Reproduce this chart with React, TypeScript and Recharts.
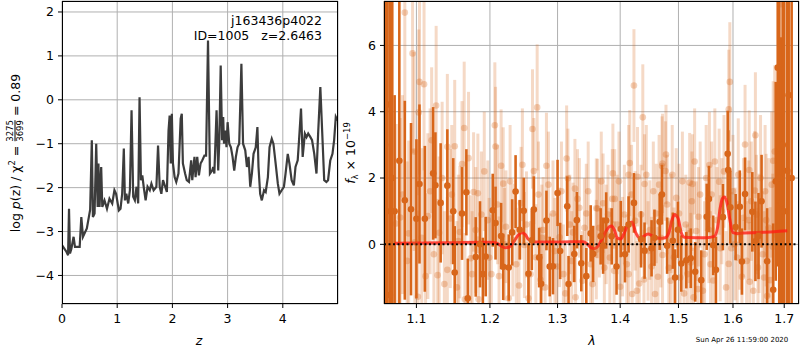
import {
  LineChart,
  Line,
  XAxis,
  YAxis,
  CartesianGrid,
  ComposedChart,
  Scatter,
  ErrorBar,
  ReferenceLine,
} from "recharts";

const FONT = "'DejaVu Sans', sans-serif";
const DARK = "#d8661a";
const GRID = "#b0b0b0";

// left panel: log p(z)
const zVals = [
  0, 0.08, 0.11, 0.127, 0.145, 0.17, 0.21, 0.235, 0.32, 0.35, 0.38, 0.45, 0.51, 0.54, 0.56, 0.59,
  0.62, 0.646, 0.66, 0.68, 0.71, 0.73, 0.77, 0.815, 0.86, 0.91, 0.95, 0.98, 1.03, 1.06, 1.09, 1.12,
  1.14, 1.165, 1.2, 1.23, 1.26, 1.29, 1.32, 1.35, 1.38, 1.405, 1.43, 1.455, 1.48, 1.515, 1.55, 1.59,
  1.62, 1.66, 1.71, 1.74, 1.77, 1.8, 1.83, 1.87, 1.9, 1.93, 1.95, 1.97, 1.99, 2.01, 2.04, 2.07, 2.11,
  2.15, 2.17, 2.19, 2.23, 2.26, 2.3, 2.34, 2.36, 2.4, 2.42, 2.45, 2.48, 2.51, 2.54, 2.58, 2.61, 2.645,
  2.68, 2.72, 2.74, 2.76, 2.8, 2.83, 2.85, 2.875, 2.9, 2.92, 2.935, 2.96, 2.98, 3.0, 3.03, 3.06, 3.09,
  3.12, 3.15, 3.18, 3.21, 3.25, 3.28, 3.32, 3.35, 3.38, 3.41, 3.44, 3.47, 3.51, 3.54, 3.56, 3.59, 3.62,
  3.66, 3.69, 3.73, 3.76, 3.8, 3.83, 3.87, 3.91, 3.94, 3.98, 4.02, 4.05, 4.09, 4.12, 4.16, 4.2, 4.23,
  4.27, 4.29, 4.33, 4.36, 4.4, 4.43, 4.46, 4.5, 4.53, 4.57, 4.61, 4.64, 4.68, 4.72, 4.75, 4.79, 4.82,
  4.86, 4.9, 4.93, 4.96, 4.99,
];
const logPz = [
  -3.31, -3.46, -3.54, -2.48, -3.5, -3.39, -3.12, -3.35, -3.35, -2.67, -3.12, -2.93, -2.5, -0.92, -2.67,
  -2.59, -1.0, -2.44, -1.45, -2.44, -1.53, -2.44, -2.29, -2.48, -2.25, -2.36, -2.06, -2.14, -2.52, -2.48,
  -2.14, -1.11, -2.29, -2.14, -2.36, -2.06, -0.24, -2.21, -2.29, -1.98, -2.36, 0.06, -1.83, -1.72, -1.98,
  -2.29, -1.98, -2.06, -1.91, -2.06, -1.98, -1.04, -1.98, -2.14, -1.83, -1.98, -2.1, -0.7, -0.36, -1.45,
  -0.32, -1.45, -1.76, -1.87, -1.68, -0.43, -0.32, -1.45, -1.68, -1.83, -1.87, -1.38, -1.83, -1.3, -1.76,
  -1.3, -1.72, -1.45, -1.38, -1.27, -1.27, 1.35, -1.68, -1.61, -1.53, -1.68, -0.24, -1.61, -0.92, 0.78,
  -0.92, -0.39, -1.0, -0.7, -1.08, -0.51, -1.0, -1.08, -1.3, -1.61, -1.3, -1.08, -1.0, 0.82, -1.0, -1.15,
  -1.53, -1.3, -1.98, -1.68, -1.23, -1.08, -0.62, -1.53, -2.14, -2.29, -2.06, -2.1, -1.76, -1.08, -0.89,
  -1.0, -1.45, -1.91, -2.14, -2.06, -1.98, -1.68, -1.23, -1.45, -1.83, -1.95, -1.53, -1.38, -1.0, -0.2,
  -1.3, -0.77, -0.85, -0.77, -0.85, -0.92, -1.23, -1.68, -0.77, 0.29, -0.92, -1.83, -1.87, -1.83, -1.38,
  -1.23, -0.92, -0.39, -0.47,
];
const pzTicksX = [0, 1, 2, 3, 4];
const pzTicksY = [-4, -3, -2, -1, 0, 1, 2];

// right panel: spectrum
const darkLam = [
  1.06, 1.062, 1.063, 1.066, 1.069, 1.072, 1.078, 1.085, 1.093, 1.1, 1.104, 1.111, 1.122, 1.125, 1.132,
  1.141, 1.149, 1.151, 1.161, 1.167, 1.169, 1.18, 1.186, 1.19, 1.194, 1.204, 1.208, 1.216, 1.219, 1.227,
  1.232, 1.237, 1.243, 1.249, 1.256, 1.261, 1.264, 1.272, 1.275, 1.283, 1.288, 1.293, 1.3, 1.304, 1.315,
  1.317, 1.326, 1.33, 1.337, 1.345, 1.352, 1.356, 1.368, 1.372, 1.377, 1.386, 1.394, 1.401, 1.408, 1.414,
  1.423, 1.435, 1.441, 1.453, 1.458, 1.467, 1.471, 1.48, 1.49, 1.494, 1.499, 1.505, 1.514, 1.522, 1.53,
  1.541, 1.551, 1.555, 1.563, 1.568, 1.581, 1.59, 1.591, 1.595, 1.605, 1.613, 1.617, 1.623, 1.637, 1.643,
  1.649, 1.655, 1.666, 1.678, 1.683, 1.687, 1.69, 1.694, 1.697, 1.7, 1.706, 1.709, 1.715,
];
const darkFlux = [
  3.0, 1.0, 4.22, -1.53, 2.0, 1.0, 2.52, 1.33, 1.06, 0.77, 1.82, 0.77, 2.14, 1.78, 1.25, 1.77, 1.0, -0.85,
  0.93, 1.57, -1.63, -0.38, 0.0, -0.9, -0.37, 1.03, 0.64, 0.25, -0.68, -0.7, 0.36, 1.59, 0.44, 1.01, -0.89,
  0.12, 1.05, -0.4, -1.19, 0.72, -0.67, -0.66, 1.55, -0.2, 1.15, -1.2, -0.29, 0.73, -0.57, -0.96, 0.33,
  -0.29, 0.24, -0.04, 0.72, 0.24, -0.67, 0.46, -0.3, 0.6, 1.25, 0.15, -0.19, -0.12, 0.2, 0.68, 1.5, -0.04,
  0.11, -1.0, 0.44, -0.58, -0.48, -0.42, -0.83, -1.08, 0.83, 1.37, -0.03, -0.77, 0.82, 2.73, 2.24, 1.12,
  0.52, 1.13, -0.52, 1.52, 0.98, 0.09, 0.25, 1.3, -0.51, -1.37, 1.9, 5.33, 2.0, 1.25, 3.0, 1.0, 2.22, 4.5,
  2.0,
];
const darkErr = [
  12, 12, 10, 10, 8, 3.5, 4.8, 3.0, 2.6, 2.4, 2.4, 2.2, 2.0, 1.6, 1.8, 1.7, 1.6, 1.4, 1.4, 1.3, 1.2, 1.2,
  1.3, 1.1, 1.2, 1.1, 1.1, 1.0, 1.0, 1.0, 1.0, 1.1, 0.9, 1.0, 0.9, 0.9, 1.0, 0.9, 0.9, 0.9, 0.9, 0.85, 1.0,
  0.85, 0.9, 0.85, 0.85, 0.85, 0.85, 0.85, 0.85, 0.85, 0.85, 0.85, 0.85, 0.85, 0.85, 0.85, 0.85, 0.85, 0.9,
  0.85, 0.85, 0.85, 0.85, 0.85, 0.9, 0.85, 0.85, 0.85, 0.85, 0.85, 0.85, 0.9, 0.9, 0.9, 1.0, 1.0, 0.9, 1.0,
  1.0, 1.3, 1.2, 1.1, 1.0, 1.1, 1.0, 1.1, 1.2, 1.2, 1.3, 1.4, 1.6, 2.0, 3.0, 6, 10, 5, 10, 10, 8, 12, 12,
];

const lightLam = [
  1.085, 1.095, 1.104, 1.11, 1.103, 1.126, 1.12, 1.141, 1.151, 1.164, 1.161, 1.177, 1.183, 1.207, 1.208,
  1.216, 1.219, 1.262, 1.269, 1.264, 1.283, 1.314, 1.316, 1.327, 1.331, 1.361, 1.372, 1.388, 1.387, 1.414,
  1.416, 1.423, 1.429, 1.438, 1.441, 1.471, 1.472, 1.478, 1.477, 1.529, 1.52, 1.525, 1.556, 1.574, 1.594,
  1.592, 1.623, 1.643, 1.631, 1.642, 1.678, 1.693, 1.681,
  1.074, 1.079, 1.098, 1.102, 1.112, 1.128, 1.141, 1.154, 1.165, 1.173, 1.184, 1.202, 1.213, 1.227, 1.242,
  1.256, 1.267, 1.274, 1.289, 1.299, 1.312, 1.328, 1.352, 1.361, 1.374, 1.39, 1.4, 1.414, 1.428, 1.432,
  1.44, 1.453, 1.464, 1.472, 1.483, 1.492, 1.51, 1.522, 1.535, 1.544, 1.563, 1.576, 1.592, 1.604, 1.617,
  1.632, 1.648, 1.66, 1.666, 1.672,
  1.09, 1.115, 1.13, 1.145, 1.158, 1.18, 1.197, 1.223, 1.233, 1.245, 1.25, 1.278, 1.293, 1.303, 1.324,
  1.345, 1.363, 1.377, 1.391, 1.404, 1.425, 1.45, 1.461, 1.487, 1.501, 1.519, 1.536, 1.555, 1.57, 1.597,
  1.613, 1.63, 1.65, 1.664, 1.677,
  1.082, 1.088, 1.097, 1.107, 1.118, 1.123, 1.134, 1.137, 1.147, 1.156, 1.17, 1.175, 1.188, 1.192, 1.199,
  1.211, 1.221, 1.229, 1.238, 1.247, 1.253, 1.259, 1.271, 1.276, 1.281, 1.286, 1.296, 1.306, 1.309, 1.319,
  1.322, 1.334, 1.339, 1.342, 1.348, 1.355, 1.366, 1.369, 1.38, 1.383, 1.395, 1.398, 1.407, 1.411, 1.419,
  1.42, 1.435, 1.444, 1.447, 1.456, 1.459, 1.466, 1.469, 1.48, 1.486, 1.489, 1.496, 1.503, 1.507, 1.513,
  1.516, 1.524, 1.527, 1.532, 1.539, 1.547, 1.55, 1.558, 1.56, 1.566, 1.579, 1.583, 1.587, 1.6, 1.608,
  1.61, 1.62, 1.626, 1.635, 1.639, 1.645, 1.653, 1.657, 1.662, 1.669, 1.675,
];
const lightFlux = [
  6.99, 5.76, 4.9, 4.83, 3.98, 4.19, 3.14, 2.94, 2.96, 3.51, 2.42, 1.58, 1.54, 3.59, 2.95, 2.37, 1.83, 3.48,
  4.13, 2.21, 2.37, 2.59, 1.99, 1.68, 1.37, 1.09, 1.24, 2.14, 1.37, 2.1, 2.45, 4.79, 2.04, 3.83, 1.82, 2.36,
  2.44, 2.71, 2.21, 2.5, 1.86, 1.82, 2.39, 1.89, 4.9, 4.07, 3.01, 3.29, 2.24, 1.62, 2.52, 7.24, 2.8,
  0.63, 0.81, 0.06, -1.58, -0.96, -0.93, -0.77, -1.3, -1.66, -0.42, -1.66, -0.9, -0.96, -1.63, -1.24, -1.63,
  -0.39, -1.07, -0.67, -0.67, -1.48, -1.6, -0.6, -0.16, -0.71, -0.8, -1.28, -0.9, -1.4, -1.18, -1.06, -0.67,
  -0.98, -0.32, -0.71, -0.39, -1.48, -0.55, -1.35, -1.4, -1.09, -0.12, -0.59, 0.01, -0.98, -1.13, -0.7, -1.0,
  -1.56, -1.08,
  0.33, 0.85, 0.35, 0.78, 0.37, 0.43, 0.73, 0.53, 0.13, 1.24, -0.02, 0.43, 0.93, 0.21, 0.36, 0.93, 1.08, 0.3,
  1.37, -0.07, 0.71, 0.43, 0.93, 0.63, 0.93, 0.33, 0.83, 0.43, 0.73, -0.12, 0.33, 0.73, 0.33, 0.73, -0.07,
  1.5, -0.5, 2.8, 0.2, 1.6, -0.3, 2.0, -1.2, 1.5, 0.1, 2.6, -0.9, 0.9, 2.2, -0.4, 1.2, 0.0, 1.9, -0.6, 2.4,
  0.6, -0.9, 1.5, 0.2, -1.3, 1.8, -0.2, 1.6, -0.9, 0.6, -0.5, 1.1, -1.1, 0.5, 1.6, -1.2, 0.5, 1.9, 0.9, -0.4,
  0.6, 1.9, 0.9, -0.6, 1.5, -1.5, 0.9, 2.1, -0.2, 1.6, -1.5, 1.8, 0.2, 1.2, -1.1, 2.1, 1.4, -1.0, 1.9, 0.6,
  -0.9, 1.3, -1.6, 0.4, 1.5, -0.3, 2.0, -0.6, 1.5, 2.5, 1.0, 2.2, -1.3, 1.6, -0.4, 2.1, 0.8, -0.5, 1.3, -1.4,
  0.9, 2.0, -0.3, 1.6, 0.5, 1.8,
];
const lightErr = [
  3.0, 3.0, 2.8, 2.6, 2.5, 2.4, 2.2, 2.2, 2.0, 2.0, 1.9, 1.8, 1.8, 1.9, 1.8, 1.7, 1.7, 1.8, 1.9, 1.6, 1.6,
  1.6, 1.5, 1.5, 1.5, 1.5, 1.5, 1.5, 1.5, 1.5, 1.6, 1.7, 1.5, 1.6, 1.5, 1.5, 1.5, 1.5, 1.5, 1.6, 1.5, 1.5,
  1.6, 1.6, 1.8, 1.8, 1.8, 1.9, 1.8, 1.8, 2.4, 3.5, 2.6,
  3.0, 3.0, 2.8, 2.6, 2.5, 2.3, 2.2, 2.0, 2.0, 1.9, 1.9, 1.8, 1.8, 1.7, 1.7, 1.7, 1.6, 1.6, 1.6, 1.6, 1.5,
  1.5, 1.5, 1.5, 1.5, 1.5, 1.5, 1.5, 1.5, 1.5, 1.5, 1.5, 1.5, 1.5, 1.5, 1.5, 1.5, 1.5, 1.6, 1.6, 1.6, 1.6,
  1.7, 1.7, 1.7, 1.8, 1.8, 2.0, 2.1, 2.2,
  2.8, 2.5, 2.3, 2.1, 2.0, 1.9, 1.8, 1.7, 1.7, 1.7, 1.6, 1.6, 1.6, 1.5, 1.5, 1.5, 1.5, 1.5, 1.5, 1.5, 1.5,
  1.5, 1.5, 1.5, 1.5, 1.5, 1.5, 1.6, 1.6, 1.7, 1.7, 1.8, 1.8, 2.0, 2.2,
  3.0, 3.0, 3.0, 2.7, 2.5, 2.4, 2.3, 2.2, 2.1, 2.0, 2.0, 1.9, 1.9, 1.8, 1.8, 1.8, 1.7, 1.7, 1.7, 1.7, 1.6,
  1.6, 1.6, 1.6, 1.6, 1.6, 1.6, 1.5, 1.5, 1.5, 1.5, 1.5, 1.5, 1.5, 1.5, 1.5, 1.5, 1.5, 1.5, 1.5, 1.5, 1.5,
  1.5, 1.5, 1.5, 1.5, 1.5, 1.5, 1.5, 1.5, 1.5, 1.5, 1.5, 1.5, 1.5, 1.5, 1.5, 1.5, 1.5, 1.5, 1.5, 1.5, 1.5,
  1.5, 1.6, 1.6, 1.6, 1.6, 1.6, 1.6, 1.6, 1.7, 1.7, 1.7, 1.7, 1.7, 1.8, 1.8, 1.8, 1.8, 1.8, 1.9, 1.9, 2.0,
  2.1, 2.2,
];

const modelLam = [
  1.072, 1.1, 1.15, 1.2, 1.208, 1.215, 1.222, 1.228, 1.235, 1.241, 1.246, 1.251, 1.256, 1.262, 1.28, 1.3,
  1.34, 1.347, 1.353, 1.358, 1.364, 1.37, 1.377, 1.382, 1.386, 1.39, 1.395, 1.401, 1.407, 1.413, 1.42,
  1.426, 1.433, 1.44, 1.447, 1.455, 1.467, 1.477, 1.483, 1.488, 1.493, 1.499, 1.505, 1.511, 1.53, 1.55,
  1.565, 1.571, 1.576, 1.58, 1.584, 1.588, 1.594, 1.6, 1.606, 1.62, 1.65, 1.68, 1.706,
];
const modelFlux = [
  0.03, 0.04, 0.05, 0.06, 0.05, -0.03, -0.1, -0.08, 0.1, 0.28, 0.35, 0.3, 0.15, 0.07, 0.07, 0.07, 0.08, 0.0,
  -0.11, -0.13, -0.05, 0.15, 0.4, 0.53, 0.55, 0.45, 0.2, 0.16, 0.35, 0.6, 0.67, 0.35, 0.18, 0.25, 0.31,
  0.25, 0.18, 0.2, 0.35, 0.7, 0.9, 0.8, 0.35, 0.21, 0.2, 0.2, 0.24, 0.5, 1.1, 1.38, 1.43, 1.3, 0.75, 0.35,
  0.33, 0.34, 0.36, 0.38, 0.41,
];
const specTicksX = [1.1, 1.2, 1.3, 1.4, 1.5, 1.6, 1.7];
const specTicksY = [0, 2, 4, 6];
const SPEC_Y: [number, number] = [-1.8, 7.34];

// error bars are cut at the axes limits, like matplotlib's clipping
const clipErr = (y: number, e: number) => [
  Math.max(0, Math.min(e, y - SPEC_Y[0])),
  Math.max(0, Math.min(e, SPEC_Y[1] - y)),
];

const pzData = zVals.map((z, i) => ({ z, lp: logPz[i] }));
const darkData = darkLam.map((x, i) => ({ x, y: darkFlux[i], e: clipErr(darkFlux[i], darkErr[i]) }));
const lightData = lightLam.map((x, i) => ({ x, y: lightFlux[i], e: clipErr(lightFlux[i], lightErr[i]) }));
const modelData = modelLam.map((x, i) => ({ x, y: modelFlux[i] }));

const minus = (v: number) => (v < 0 ? "\u2212" + Math.abs(v) : String(v));
const tickStyle = { fill: "#000", fontSize: 12.5, fontFamily: FONT };

const DarkDot = (p: any) => <circle cx={p.cx} cy={p.cy} r={3.3} fill={DARK} />;
const LightDot = (p: any) => (
  <circle cx={p.cx} cy={p.cy} r={3.3} fill={DARK} fillOpacity={0.3} />
);

export default function App() {
  return (
    <div
      style={{
        position: "absolute",
        left: 0,
        top: 0,
        width: 800,
        height: 350,
        background: "#fff",
        fontFamily: FONT,
      }}
    >
      <div style={{ position: "absolute", left: 0, top: 0 }}>
        <LineChart width={340} height={350} data={pzData} margin={{ top: 1, right: 2, left: 0, bottom: 16 }}>
          <CartesianGrid stroke={GRID} strokeWidth={1} />
          <XAxis
            type="number"
            dataKey="z"
            domain={[0, 5]}
            ticks={pzTicksX}
            allowDataOverflow
            height={30}
            axisLine={false}
            tickLine={{ stroke: "#000" }}
            tickSize={4}
            tickMargin={6}
            tick={tickStyle}
            interval={0}
          />
          <YAxis
            type="number"
            domain={[-4.65, 2.25]}
            ticks={pzTicksY}
            allowDataOverflow
            width={62}
            axisLine={false}
            tickLine={{ stroke: "#000" }}
            tickSize={4}
            tickMargin={4}
            tick={tickStyle}
            tickFormatter={minus}
            interval={0}
          />
          <Line
            dataKey="lp"
            type="linear"
            stroke="#3c3c3c"
            strokeWidth={2.2}
            dot={false}
            isAnimationActive={false}
          />
        </LineChart>
      </div>

      <div style={{ position: "absolute", left: 340, top: 0 }}>
        <ComposedChart width={460} height={350} margin={{ top: 1, right: 1, left: 0, bottom: 16 }}>
          <CartesianGrid stroke={GRID} strokeWidth={1} />
          <XAxis
            type="number"
            dataKey="x"
            scale="log"
            domain={[1.0586, 1.73]}
            ticks={specTicksX}
            allowDataOverflow
            height={30}
            axisLine={false}
            tickLine={{ stroke: "#000" }}
            tickSize={4}
            tickMargin={6}
            tick={tickStyle}
            tickFormatter={(v: number) => v.toFixed(1)}
            interval={0}
          />
          <YAxis
            type="number"
            dataKey="y"
            domain={SPEC_Y}
            ticks={specTicksY}
            allowDataOverflow
            width={44}
            axisLine={false}
            tickLine={{ stroke: "#000" }}
            tickSize={4}
            tickMargin={4}
            tick={tickStyle}
            interval={0}
          />
          <Scatter data={lightData} dataKey="y" shape={LightDot} isAnimationActive={false}>
            <ErrorBar
              dataKey="e"
              direction="y"
              width={0}
              stroke="rgba(216,102,26,0.25)"
              strokeWidth={3}
              isAnimationActive={false}
            />
          </Scatter>
          <Scatter data={darkData} dataKey="y" shape={DarkDot} isAnimationActive={false}>
            <ErrorBar
              dataKey="e"
              direction="y"
              width={0}
              stroke={DARK}
              strokeWidth={2.6}
              isAnimationActive={false}
            />
          </Scatter>
          <Line
            data={modelData}
            dataKey="y"
            type="monotone"
            stroke="rgba(255,30,20,0.8)"
            strokeWidth={3}
            dot={false}
            isAnimationActive={false}
          />
          <ReferenceLine y={0} stroke="#000" strokeWidth={2} strokeDasharray="2 2.5" />
        </ComposedChart>
      </div>

      {/* axes frames */}
      <div
        style={{
          position: "absolute",
          left: 62,
          top: 1,
          width: 276,
          height: 303,
          border: "1px solid #000",
          boxSizing: "border-box",
          pointerEvents: "none",
        }}
      />
      <div
        style={{
          position: "absolute",
          left: 384,
          top: 1,
          width: 415,
          height: 303,
          border: "1px solid #000",
          boxSizing: "border-box",
          pointerEvents: "none",
        }}
      />

      <svg width={800} height={350} style={{ position: "absolute", left: 0, top: 0, pointerEvents: "none" }}>
        <text x={322} y={25} textAnchor="end" fontSize={12.5} fontFamily={FONT}>
          j163436p4022
        </text>
        <text x={322} y={40} textAnchor="end" fontSize={12.5} fontFamily={FONT} style={{ whiteSpace: "pre" }}>
          {"ID=1005   z=2.6463"}
        </text>
        <text x={199} y={345} textAnchor="middle" fontSize={12.5} fontFamily={FONT} fontStyle="italic">
          z
        </text>
        <text x={592} y={345} textAnchor="middle" fontSize={12.5} fontFamily={FONT} fontStyle="italic">
          λ
        </text>
        <text x={742} y={342} textAnchor="middle" fontSize={7} fontFamily={FONT}>
          Sun Apr 26 11:59:00 2020
        </text>
      </svg>

      <div
        style={{
          position: "absolute",
          left: 15,
          top: 153,
          transform: "translate(-50%, -50%) rotate(-90deg)",
          whiteSpace: "nowrap",
          fontSize: 12.5,
          display: "flex",
          alignItems: "center",
        }}
      >
        <span>
          log <i>p</i>(z) / χ<sup style={{ fontSize: 8.5 }}>2</sup> =&nbsp;
        </span>
        <span
          style={{
            display: "inline-flex",
            flexDirection: "column",
            alignItems: "center",
            fontSize: 8.5,
            lineHeight: "9px",
          }}
        >
          <span style={{ borderBottom: "1px solid #000" }}>3275</span>
          <span>3699</span>
        </span>
        <span>&nbsp;= 0.89</span>
      </div>

      <div
        style={{
          position: "absolute",
          left: 351,
          top: 153,
          transform: "translate(-50%, -50%) rotate(-90deg)",
          whiteSpace: "nowrap",
          fontSize: 12.5,
        }}
      >
        <i>f</i>
        <sub style={{ fontSize: 8.5 }}>λ</sub> × 10<sup style={{ fontSize: 8.5 }}>−19</sup>
      </div>
    </div>
  );
}
